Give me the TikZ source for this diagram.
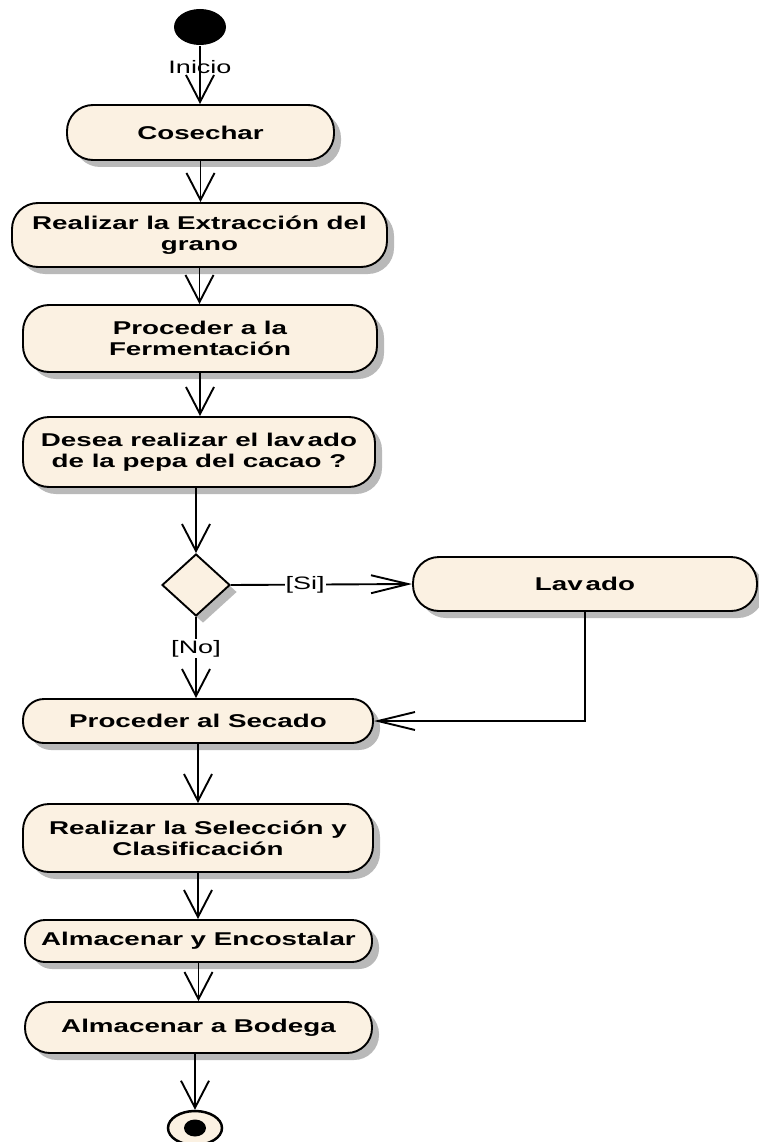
\documentclass[tikz,border=0pt]{standalone}
\usepackage{fontspec}
\setmainfont{Liberation Sans}[FakeStretch=1.5]
\usetikzlibrary{arrows.meta,shapes.geometric,shadows}
\definecolor{actfill}{RGB}{251,241,226}
\definecolor{shadowgray}{RGB}{185,185,185}

\begin{document}
\begin{tikzpicture}[x=1pt,y=-1pt,
  line width=1.9pt,
  flowshadow/.style={drop shadow={shadow xshift=7pt, shadow yshift=-7pt, fill=shadowgray, opacity=1}},
  act/.style n args={3}{draw=black, fill=actfill, rounded corners=#3,
    minimum width=#1, minimum height=#2, inner sep=0pt, align=center,
    font=\fontsize{18.5}{21}\selectfont\bfseries, flowshadow},
  decision/.style={diamond, draw=black, fill=actfill, inner sep=0pt,
    minimum width=68pt, minimum height=62pt, aspect=1.1, flowshadow},
  guard/.style={font=\fontsize{18}{20}\selectfont, inner sep=1pt},
  varrow/.style={-{Straight Barb[length=27pt,width=28pt,line width=1.9pt]}},
  harrow/.style={-{Straight Barb[length=37pt,width=18pt,line width=1.9pt]}}
]
\useasboundingbox (0,0) rectangle (758,1142);

% initial state
\node[ellipse, fill=black, minimum width=52pt, minimum height=36pt, inner sep=0pt] (start) at (200,27) {};

% activities
\node[act={267pt}{55pt}{26pt}] (cosechar) at (200.5,132.5) {Cosechar};
\node[act={375pt}{64pt}{26pt}] (extraccion) at (199.5,235) {Realizar la Extracción del\\grano};
\node[act={354pt}{67pt}{26pt}] (fermentacion) at (200,338.5) {Proceder a la\\Fermentación};
\node[act={352pt}{70pt}{26pt}] (desea) at (199,452) {Desea realizar el lav\hspace{3pt}ado\\de la pepa del cacao ?};
\node[decision] (dec) at (196,585) {};
\node[act={344pt}{54pt}{26pt}] (lavado) at (585,584) {Lav\hspace{3pt}ado};
\node[act={350pt}{44pt}{21pt}] (secado) at (198,721) {Proceder al Secado};
\node[act={350pt}{68pt}{26pt}] (seleccion) at (198,838) {Realizar la Selección y\\Clasificación};
\node[act={347pt}{42pt}{20pt}] (encostalar) at (198.5,941) {Almacenar y Encostalar};
\node[act={347pt}{51pt}{25pt}] (bodega) at (198.5,1027.5) {Almacenar a Bodega};

% final state
\node[ellipse, draw=black, line width=2.5pt, fill=actfill, minimum width=54pt, minimum height=34pt, inner sep=0pt] (final) at (195,1128) {};
\node[ellipse, fill=black, minimum width=22pt, minimum height=17pt, inner sep=0pt] (finaldot) at (final.center) {};

% transitions
\draw[varrow] (start) -- node[pos=0.36, guard] {Inicio} (start.south |- cosechar.north);
\draw[varrow] (cosechar) -- (cosechar.south |- extraccion.north);
\draw[varrow] (extraccion) -- (extraccion.south |- fermentacion.north);
\draw[varrow] (fermentacion) -- (fermentacion.south |- desea.north);
\draw[varrow] (desea.south -| dec.north) -- (dec.north);
\draw[harrow] (dec.east) -- node[pos=0.41, guard, fill=white] {[Si]} (lavado.west);
\draw[varrow] (dec.south) -- node[pos=0.39, guard, fill=white] {[No]} (dec.south |- secado.north);
\draw[harrow] (lavado.south) |- (secado.east);
\draw[varrow] (secado) -- (secado.south |- seleccion.north);
\draw[varrow] (seleccion) -- (seleccion.south |- encostalar.north);
\draw[varrow] (encostalar) -- (encostalar.south |- bodega.north);
\draw[varrow] (bodega.south -| final.north) -- (final.north);
\end{tikzpicture}
\end{document}
